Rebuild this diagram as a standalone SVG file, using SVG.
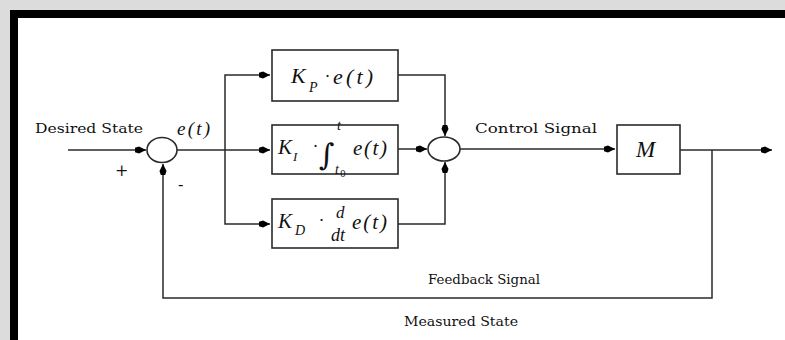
<svg xmlns="http://www.w3.org/2000/svg" width="785" height="340" viewBox="0 0 785 340">
<style>
.ln{stroke:#2a2a2a;stroke-width:1.5;fill:none}
.bx{stroke:#2a2a2a;stroke-width:1.6;fill:#fff}
.lbl{font-family:"DejaVu Serif","Liberation Serif",serif;font-size:13.5px;fill:#111}
.m{font-family:"Liberation Serif","Times New Roman",serif;font-style:italic;fill:#111}
.n{font-family:"DejaVu Serif","Liberation Serif",serif;fill:#111}
</style>
<defs>
<marker id="ah" viewBox="0 0 11 8" refX="11" refY="4" markerWidth="11" markerHeight="8" markerUnits="userSpaceOnUse" orient="auto">
<path d="M0,1.8 L4,0.5 L11,4 L4,7.5 L0,6.2 Z" fill="#000"/>
</marker>
</defs>
<rect x="0" y="0" width="785" height="340" fill="#dcdcdc"/>
<rect x="10" y="10" width="775" height="330" fill="#000"/>
<rect x="18" y="18" width="767" height="322" fill="#fff"/>
<g id="connectors">
<path class="ln" d="M68,150 H146" marker-end="url(#ah)"/>
<path class="ln" d="M177,150 H270" marker-end="url(#ah)"/>
<path class="ln" d="M225,150 V75 H270" marker-end="url(#ah)"/>
<path class="ln" d="M225,150 V224 H270" marker-end="url(#ah)"/>
<path class="ln" d="M398,75 H445 V136" marker-end="url(#ah)"/>
<path class="ln" d="M398,149 H427" marker-end="url(#ah)"/>
<path class="ln" d="M398,224 H445 V162" marker-end="url(#ah)"/>
<path class="ln" d="M460,149 H615" marker-end="url(#ah)"/>
<path class="ln" d="M680,150 H772" marker-end="url(#ah)"/>
<path class="ln" d="M712,150 V298 H163 V164" marker-end="url(#ah)"/>
</g>
<g id="sum1">
<ellipse class="bx" cx="162" cy="150" rx="15" ry="12.5"/>
</g>
<g id="sum2">
<ellipse class="bx" cx="444" cy="149" rx="16" ry="12"/>
</g>
<g id="kp">
<rect class="bx" x="272" y="50" width="126" height="51"/>
<text class="m" x="291" y="83" font-size="22">K</text>
<text class="m" x="309" y="92" font-size="14">P</text>
<text class="n" x="325" y="82" font-size="16">·</text>
<text class="m" x="333" y="84" font-size="22" textLength="40" lengthAdjust="spacing">e(t)</text>
</g>
<g id="ki">
<rect class="bx" x="272" y="125" width="126" height="49"/>
<text class="m" x="278" y="154" font-size="21">K</text>
<text class="m" x="293" y="161" font-size="13">I</text>
<text class="n" x="313" y="152" font-size="16">·</text>
<text class="n" x="319" y="165" font-size="30" font-style="italic">∫</text>
<text class="m" x="337" y="130" font-size="14">t</text>
<text class="m" x="335" y="174" font-size="14">t</text>
<text class="n" x="340" y="177" font-size="9">0</text>
<text class="m" x="353" y="155" font-size="21" textLength="34" lengthAdjust="spacing">e(t)</text>
</g>
<g id="kd">
<rect class="bx" x="272" y="199" width="126" height="49"/>
<text class="m" x="278" y="228" font-size="21">K</text>
<text class="m" x="295" y="235" font-size="14">D</text>
<text class="n" x="319" y="226" font-size="16">·</text>
<text class="m" x="336" y="218" font-size="17">d</text>
<text class="m" x="331" y="241" font-size="18">dt</text>
<text class="m" x="352" y="229" font-size="21" textLength="35" lengthAdjust="spacing">e(t)</text>
</g>
<g id="m">
<rect class="bx" x="617" y="125" width="63" height="49"/>
<text class="m" x="636" y="157" font-size="23">M</text>
</g>
<g id="labels">
<text class="lbl" x="35" y="133" textLength="108" lengthAdjust="spacingAndGlyphs">Desired State</text>
<text class="m" x="177" y="135" font-size="19" textLength="33" lengthAdjust="spacing">e(t)</text>
<text class="n" x="115" y="176" font-size="16">+</text>
<text class="n" x="178" y="190" font-size="16">-</text>
<text class="lbl" x="475" y="133" textLength="122" lengthAdjust="spacingAndGlyphs">Control Signal</text>
<text class="lbl" x="428" y="284" textLength="112" lengthAdjust="spacingAndGlyphs">Feedback Signal</text>
<text class="lbl" x="404" y="326" textLength="114" lengthAdjust="spacingAndGlyphs">Measured State</text>
</g>
</svg>
